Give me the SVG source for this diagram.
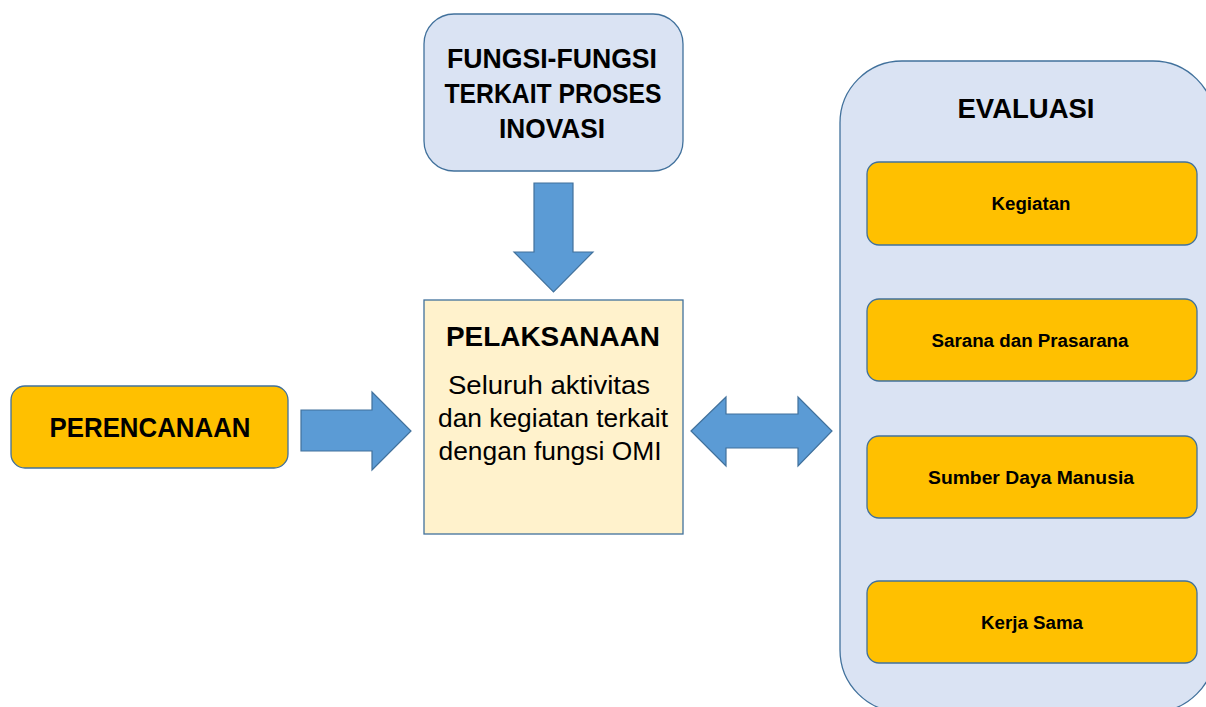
<svg xmlns="http://www.w3.org/2000/svg" width="1206" height="707" viewBox="0 0 1206 707">
  <style>
    .box { stroke: #41719c; stroke-width: 1.3; }
    .blue { fill: #dae3f3; }
    .gold { fill: #ffc000; }
    .cream { fill: #fff2cc; }
    .arrow { fill: #5b9bd5; stroke: #41719c; stroke-width: 1.2; }
    text { font-family: "Liberation Sans", Arial, sans-serif; fill: #000; text-anchor: middle; }
    .head { font-weight: bold; font-size: 28px; }
    .item { font-weight: bold; font-size: 18px; }
    .body { font-size: 26px; }
  </style>
  <rect width="1206" height="707" fill="#ffffff"/>

  <!-- Functions related to the innovation process -->
  <g id="fungsi">
    <rect class="box blue" x="424" y="14" width="259" height="157" rx="30"/>
    <text class="head" x="552" y="68" textLength="210" lengthAdjust="spacingAndGlyphs">FUNGSI-FUNGSI</text>
    <text class="head" x="553" y="103" textLength="217" lengthAdjust="spacingAndGlyphs">TERKAIT PROSES</text>
    <text class="head" x="552" y="138" textLength="106" lengthAdjust="spacingAndGlyphs">INOVASI</text>
  </g>

  <!-- Planning -->
  <g id="perencanaan">
    <rect class="box gold" x="11" y="386" width="277" height="82" rx="14"/>
    <text class="head" x="150" y="437" textLength="201" lengthAdjust="spacingAndGlyphs">PERENCANAAN</text>
  </g>

  <!-- Implementation -->
  <g id="pelaksanaan">
    <rect class="box cream" x="424" y="300" width="259" height="234"/>
    <text class="head" x="553" y="346" font-size="29" textLength="214" lengthAdjust="spacingAndGlyphs">PELAKSANAAN</text>
    <text class="body" x="549" y="394" textLength="202" lengthAdjust="spacingAndGlyphs">Seluruh aktivitas</text>
    <text class="body" x="553" y="427" textLength="230" lengthAdjust="spacingAndGlyphs">dan kegiatan terkait</text>
    <text class="body" x="550" y="460" textLength="223" lengthAdjust="spacingAndGlyphs">dengan fungsi OMI</text>
  </g>

  <!-- Evaluation and its aspects -->
  <g id="evaluasi">
    <rect class="box blue" x="840" y="61" width="375" height="651" rx="62"/>
    <text class="head" x="1026" y="118" font-size="29" textLength="137" lengthAdjust="spacingAndGlyphs">EVALUASI</text>
  </g>
  <g id="kegiatan">
    <rect class="box gold" x="867" y="162" width="330" height="83" rx="12"/>
    <text class="item" x="1031" y="210" textLength="79" lengthAdjust="spacingAndGlyphs">Kegiatan</text>
  </g>
  <g id="sarana">
    <rect class="box gold" x="867" y="299" width="330" height="82" rx="12"/>
    <text class="item" x="1030" y="347" textLength="197" lengthAdjust="spacingAndGlyphs">Sarana dan Prasarana</text>
  </g>
  <g id="sdm">
    <rect class="box gold" x="867" y="436" width="330" height="82" rx="12"/>
    <text class="item" x="1031" y="484" textLength="206" lengthAdjust="spacingAndGlyphs">Sumber Daya Manusia</text>
  </g>
  <g id="kerjasama">
    <rect class="box gold" x="867" y="581" width="330" height="82" rx="12"/>
    <text class="item" x="1032" y="629" textLength="102" lengthAdjust="spacingAndGlyphs">Kerja Sama</text>
  </g>

  <!-- Block arrows between stages -->
  <g id="connectors">
    <polygon class="arrow" points="534,183 573,183 573,252 593,252 553.5,292 514,252 534,252"/>
    <polygon class="arrow" points="301,410 372,410 372,392 411,431 372,470 372,451 301,451"/>
    <polygon class="arrow" points="691,431 726,397 726,414 798,414 798,397 832,431 798,466 798,448 726,448 726,466"/>
  </g>
</svg>
